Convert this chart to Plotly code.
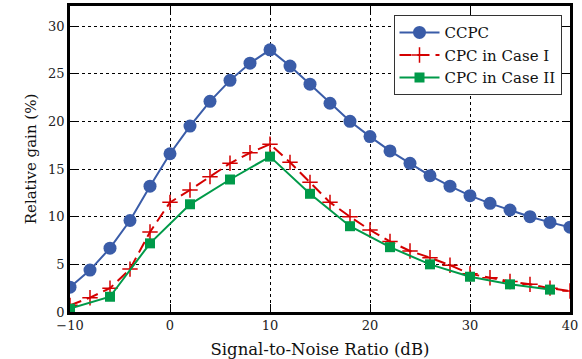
import plotly.graph_objects as go

# SNR points (dB)
snr = list(range(-10, 41, 2))
snr_case2 = list(range(-10, 39, 4))

ccpc = [2.6, 4.4, 6.7, 9.6, 13.2, 16.6, 19.5, 22.1, 24.3, 26.1, 27.5, 25.8, 23.9,
        21.9, 20.0, 18.4, 16.9, 15.6, 14.3, 13.2, 12.2, 11.4, 10.7, 10.0, 9.4, 8.9]
cpc_case1 = [0.7, 1.5, 2.5, 4.5, 8.4, 11.5, 12.8, 14.2, 15.6, 16.7, 17.6, 15.7, 13.6,
             11.5, 10.0, 8.6, 7.4, 6.4, 5.7, 4.9, 4.0, 3.6, 3.2, 2.9, 2.5, 2.2]
cpc_case2 = [0.35, 1.6, 7.2, 11.3, 13.9, 16.3, 12.4, 9.0, 6.8, 5.0, 3.7, 2.9, 2.35]

blue = "#3a5ca8"
red = "#d40000"
green = "#009a49"
font = "DejaVu Serif"

fig = go.Figure()
fig.add_trace(go.Scatter(x=snr, y=ccpc, name="CCPC", mode="lines+markers",
                         line=dict(color=blue, width=2),
                         marker=dict(symbol="circle", size=13, color=blue)))
fig.add_trace(go.Scatter(x=snr, y=cpc_case1, name="CPC in Case I", mode="lines+markers",
                         line=dict(color=red, width=2, dash="12px,6px"),
                         marker=dict(symbol="cross-thin", size=11,
                                     line=dict(color=red, width=1.5))))
fig.add_trace(go.Scatter(x=snr_case2, y=cpc_case2, name="CPC in Case II", mode="lines+markers",
                         line=dict(color=green, width=2),
                         marker=dict(symbol="square", size=10, color=green)))

axis = dict(showline=True, linecolor="black", linewidth=2.5, mirror="ticks",
            ticks="inside", ticklen=8, tickcolor="black", tickwidth=1.2,
            showgrid=True, gridcolor="black", gridwidth=1, griddash="dot",
            zeroline=False, automargin=False,
            tickfont=dict(family=font, size=13, color="#222"))

fig.update_xaxes(range=[-10, 40], dtick=10, tick0=0, **axis,
                 title=dict(text="Signal-to-Noise Ratio (dB)",
                            font=dict(family=font, size=16.5, color="#111"), standoff=12))
fig.update_yaxes(range=[0, 32.1], dtick=5, tick0=0, **axis,
                 title=dict(text="Relative gain (%)",
                            font=dict(family=font, size=15, color="#111"), standoff=8))

fig.update_layout(
    width=582, height=359,
    margin=dict(l=70, r=12, t=6, b=47),
    plot_bgcolor="white", paper_bgcolor="white",
    legend=dict(x=0.983, y=0.97, xanchor="right", yanchor="top",
                bgcolor="white", bordercolor="#333", borderwidth=1,
                font=dict(family=font, size=15, color="#111"),
                tracegroupgap=0, itemwidth=40),
)

# page body margin would shift the figure by 8px
fig.write_html("out.html", config={"displayModeBar": False},
               post_script="document.body.style.margin='0';")
